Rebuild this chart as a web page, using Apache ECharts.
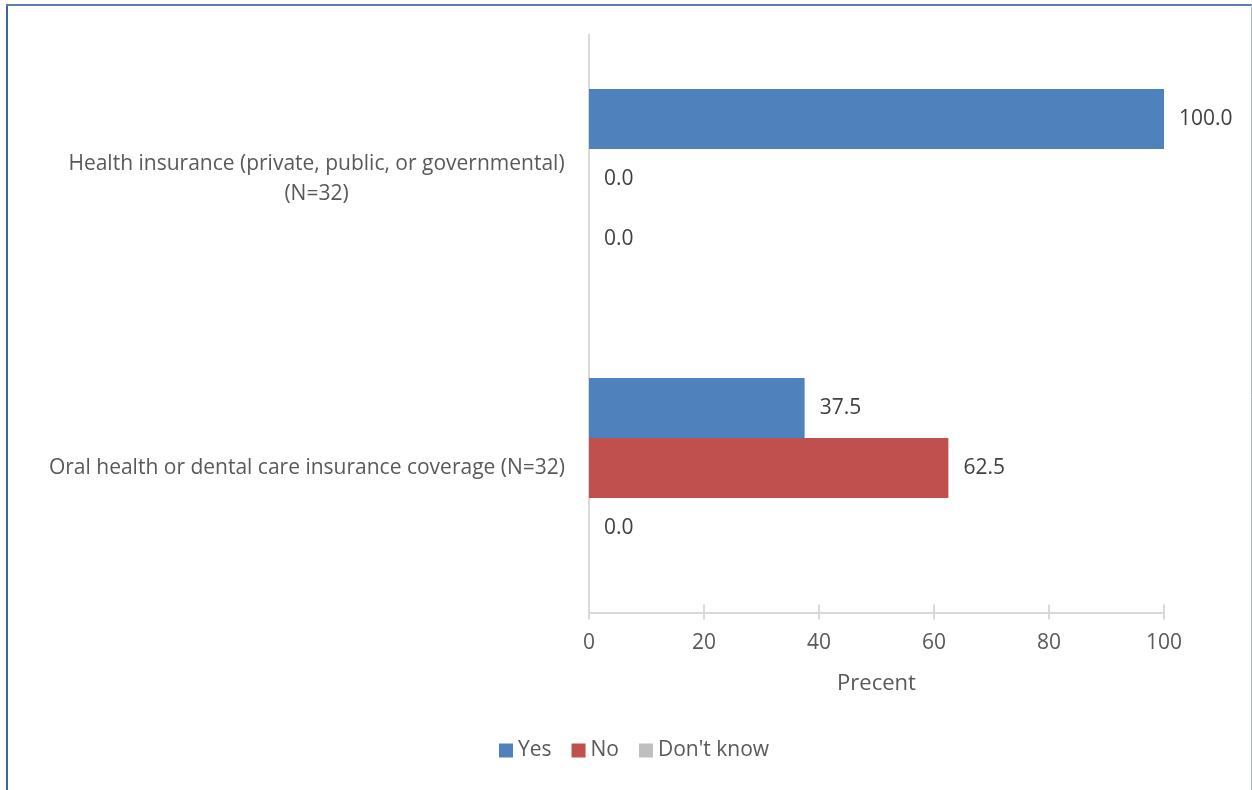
<!DOCTYPE html>
<html>
<head>
<meta charset="utf-8">
<script src="https://cdn.jsdelivr.net/npm/echarts@6/dist/echarts.min.js"></script>
<style>html,body{margin:0;padding:0;background:#fff;}#c{width:1252px;height:790px;}</style>
</head>
<body>
<div id="c"></div>
<script>
const categories = ["Health insurance (private, public, or governmental)\n(N=32)", "Oral health or dental care insurance coverage (N=32)"];
const seriesNames = ["Yes", "No", "Don't know"];
const yesValues = [100.0, 37.5];
const noValues = [0.0, 62.5];
const dontKnowValues = [0.0, 0.0];
const xTicks = [0, 20, 40, 60, 80, 100];
const xAxisTitle = "Precent";

const colors = ["#4F81BD", "#C0504D", "#BFBFBF"];
const FONT = "Open Sans";
const FS = 21;
const values = [yesValues, noValues, dontKnowValues];

const ctx = document.createElement('canvas').getContext('2d');
ctx.font = FS + 'px "' + FONT + '"';
function labelFmt(v) {
  const lines = v.split('\n');
  if (lines.length === 1) return v;
  return lines.map(l => '{c|' + l + '}').join('\n');
}
const blockW = Math.ceil(Math.max(...categories[0].split('\n').map(l => ctx.measureText(l).width)));

const chart = echarts.init(document.getElementById('c'), null, {renderer: 'canvas'});
chart.setOption({
  animation: false,
  textStyle: {fontFamily: FONT},
  grid: {left: 589, right: 88, top: 34.5, bottom: 177.5, containLabel: false},
  legend: {
    bottom: 24, left: 494,
    itemWidth: 14, itemHeight: 14, itemGap: 20,
    icon: 'rect',
    textStyle: {fontSize: FS, color: '#595959', fontFamily: FONT, padding: [0, 0, 0, 0]},
    data: seriesNames
  },
  xAxis: [{
    type: 'value', min: xTicks[0], max: xTicks[xTicks.length - 1], interval: 20,
    name: xAxisTitle, nameLocation: 'middle', nameGap: 60,
    nameTextStyle: {fontSize: 22, color: '#595959', fontFamily: FONT},
    axisLine: {show: true, lineStyle: {color: '#D9D9D9', width: 2}},
    axisTick: {show: true, length: 7, lineStyle: {color: '#D9D9D9', width: 2}},
    axisLabel: {fontSize: FS, color: '#595959', margin: 20, fontFamily: FONT},
    splitLine: {show: false}
  }, {
    type: 'value', min: xTicks[0], max: xTicks[xTicks.length - 1], interval: 20,
    position: 'bottom',
    axisLine: {show: false},
    axisTick: {show: true, inside: true, length: 8, lineStyle: {color: '#D9D9D9', width: 2}},
    axisLabel: {show: false},
    splitLine: {show: false}
  }],
  yAxis: {
    type: 'category', inverse: true, data: categories,
    axisLine: {show: true, lineStyle: {color: '#D9D9D9', width: 2}},
    axisTick: {show: false},
    axisLabel: {
      fontSize: FS, color: '#595959', margin: 24, lineHeight: 30, align: 'right', fontFamily: FONT,
      formatter: labelFmt,
      rich: {c: {width: blockW, align: 'center', fontSize: FS, lineHeight: 30, color: '#595959', fontFamily: FONT}}
    }
  },
  series: seriesNames.map((n, i) => ({
    name: n, type: 'bar', data: values[i],
    itemStyle: {color: colors[i]},
    barGap: '0%', barCategoryGap: '37.7%',
    label: {
      show: true, position: 'right', distance: 15,
      formatter: p => p.value.toFixed(1),
      fontSize: FS, color: '#404040', fontFamily: FONT
    }
  })),
  graphic: [
    {type: 'line', shape: {x1: 7, y1: 4, x2: 7, y2: 790}, style: {stroke: '#3B679D', lineWidth: 2}},
    {type: 'line', shape: {x1: 6, y1: 5, x2: 1252, y2: 5}, style: {stroke: '#5B7FB0', lineWidth: 2}},
    {type: 'line', shape: {x1: 1251.5, y1: 5, x2: 1251.5, y2: 790}, style: {stroke: '#A9B8CC', lineWidth: 1}}
  ]
});
</script>
</body>
</html>
